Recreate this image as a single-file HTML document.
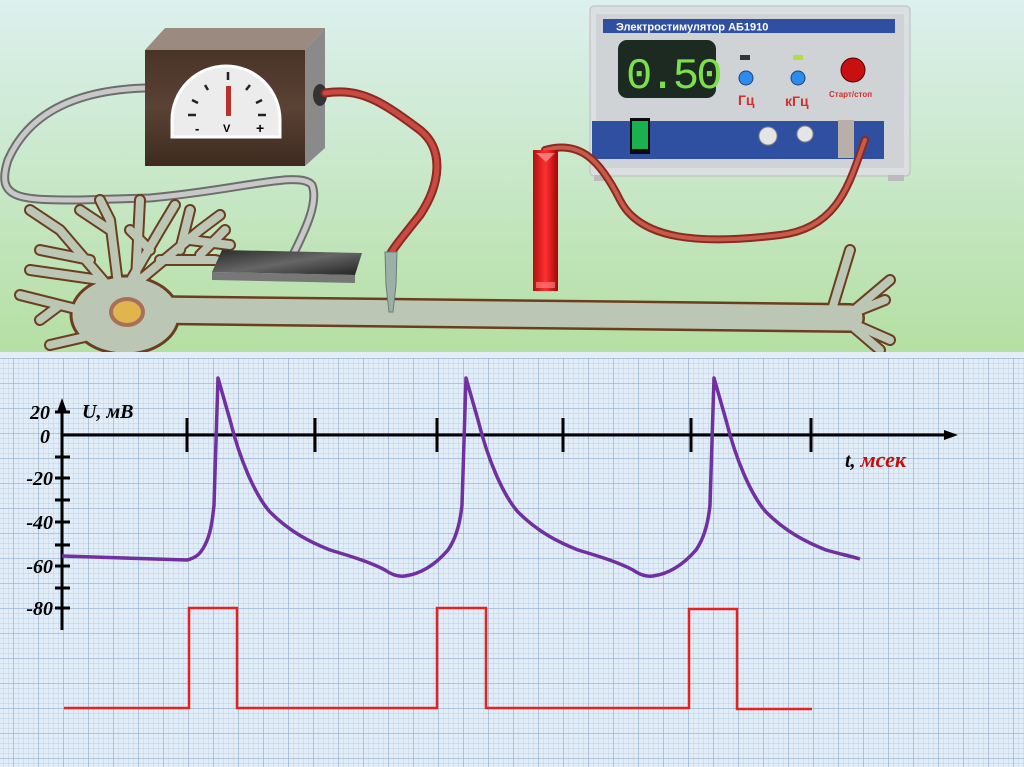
<!DOCTYPE html>
<html><head><meta charset="utf-8"><style>
html,body{margin:0;padding:0;width:1024px;height:767px;overflow:hidden;background:#fff}
svg{display:block}
</style></head><body>
<svg width="1024" height="767" viewBox="0 0 1024 767" xmlns="http://www.w3.org/2000/svg">
<defs>
<linearGradient id="bg" x1="0" y1="0" x2="0" y2="1">
<stop offset="0" stop-color="#dcf0ee"/><stop offset="1" stop-color="#b4dfa2"/></linearGradient>
<pattern id="minor" width="5" height="5" patternUnits="userSpaceOnUse" x="13" y="8">
<path d="M0 0H5M0 0V5" stroke="#bcd1e4" stroke-width="0.9" fill="none"/></pattern>
<pattern id="major" width="25" height="25" patternUnits="userSpaceOnUse" x="13" y="8">
<path d="M0 0H25M0 0V25" stroke="#94adc9" stroke-width="1.3" fill="none"/></pattern>
<linearGradient id="wood" x1="0" y1="0" x2="0" y2="1"><stop offset="0" stop-color="#4a3428"/><stop offset="0.5" stop-color="#5a4234"/><stop offset="1" stop-color="#3e2a20"/></linearGradient>
<linearGradient id="pad" x1="0" y1="0" x2="1" y2="1"><stop offset="0" stop-color="#2a2a2a"/><stop offset="0.5" stop-color="#666"/><stop offset="1" stop-color="#222"/></linearGradient>
<linearGradient id="redbar" x1="0" y1="0" x2="1" y2="0"><stop offset="0" stop-color="#b01010"/><stop offset="0.5" stop-color="#ff3030"/><stop offset="1" stop-color="#a00808"/></linearGradient>
</defs>
<rect width="1024" height="356" fill="url(#bg)"/>
<rect y="356" width="1024" height="411" fill="#e2edf7"/>
<rect y="356" width="1024" height="411" fill="url(#minor)"/>
<rect y="356" width="1024" height="411" fill="url(#major)"/>

<!-- gray cable -->
<g fill="none" stroke-linecap="round">
<path d="M145 88 C80 90 30 110 8 160 C-5 200 20 200 80 200 L150 198 C240 190 300 170 312 185 C320 205 300 240 288 265" stroke="#6d6d6d" stroke-width="9"/>
<path d="M145 88 C80 90 30 110 8 160 C-5 200 20 200 80 200 L150 198 C240 190 300 170 312 185 C320 205 300 240 288 265" stroke="#c8c8c8" stroke-width="5"/>
</g>

<!-- neuron -->
<g fill="none" stroke-linecap="round" stroke-linejoin="round">
<g stroke="#6b3e20">
<path d="M150 310 L850 318" stroke-width="30"/>
<path d="M840 318 L885 300 M840 318 L890 340 M830 316 L850 250 M845 318 L890 280 M845 320 L880 350" stroke-width="12"/>
<path d="M120 300 L60 230 L30 210 M90 260 L40 250 M120 300 L110 220 L100 200 M110 230 L80 210 M125 290 L160 230 L175 205 M150 250 L130 230 M140 280 L200 230 L220 215 M190 240 L230 245 M180 250 L190 210 M120 320 L40 300 L20 295 M60 305 L40 320 M115 330 L50 345 M135 300 L140 200 M100 280 L30 270 M160 260 L215 260 L235 265 M200 255 L225 230" stroke-width="12"/>
<ellipse cx="125" cy="315" rx="55" ry="40" fill="#6b3e20"/>
</g>
<g stroke="#bcc6b4">
<path d="M150 310 L850 318" stroke-width="25"/>
<path d="M840 318 L885 300 M840 318 L890 340 M830 316 L850 250 M845 318 L890 280 M845 320 L880 350" stroke-width="8"/>
<path d="M120 300 L60 230 L30 210 M90 260 L40 250 M120 300 L110 220 L100 200 M110 230 L80 210 M125 290 L160 230 L175 205 M150 250 L130 230 M140 280 L200 230 L220 215 M190 240 L230 245 M180 250 L190 210 M120 320 L40 300 L20 295 M60 305 L40 320 M115 330 L50 345 M135 300 L140 200 M100 280 L30 270 M160 260 L215 260 L235 265 M200 255 L225 230" stroke-width="8"/>
<ellipse cx="125" cy="315" rx="52" ry="37" fill="#bcc6b4"/>
</g>
</g>
<rect y="352" width="1024" height="6" fill="#e2edf7"/>
<ellipse cx="127" cy="312" rx="16" ry="13" fill="#e1b44e" stroke="#a6705a" stroke-width="4"/>

<!-- plate -->
<polygon points="222,250 362,253 355,275 212,272" fill="url(#pad)"/>
<polygon points="212,272 355,275 355,283 212,280" fill="#777"/>

<!-- voltmeter box -->
<polygon points="145,50 165,28 325,28 305,50" fill="#9a8a80"/>
<polygon points="305,50 325,28 325,148 305,166" fill="#8a8a8a"/>
<rect x="145" y="50" width="160" height="116" fill="url(#wood)"/>
<path d="M172 137 L172 120 A54 54 0 0 1 280 120 L280 137 Z" fill="#ececec" stroke="#fff" stroke-width="3"/>
<rect x="226" y="86" width="5" height="30" fill="#b8312a"/>
<text x="195" y="133" font-family="Liberation Sans" font-weight="bold" font-size="13">-</text>
<text x="223" y="132" font-family="Liberation Sans" font-weight="bold" font-size="11">V</text>
<text x="256" y="133" font-family="Liberation Sans" font-weight="bold" font-size="14">+</text>
<path d="M188 115 L196 115 M192 100 L198 103 M205 85 L208 90 M228 72 L228 80 M250 85 L246 90 M262 100 L256 103 M266 115 L258 115" stroke="#222" stroke-width="2.5"/>
<ellipse cx="320" cy="95" rx="7" ry="11" fill="#333"/>

<!-- red cable left -->
<path d="M325 93 C360 88 380 100 420 130 C445 150 440 185 420 215 C400 240 392 250 390 255" fill="none" stroke="#8a2a22" stroke-width="9" stroke-linecap="round"/>
<path d="M325 93 C360 88 380 100 420 130 C445 150 440 185 420 215 C400 240 392 250 390 255" fill="none" stroke="#c84a40" stroke-width="5" stroke-linecap="round"/>
<polygon points="385,252 397,252 396,285 393,312 389,312 386,285" fill="#9cb0a8" stroke="#6a7c76"/>

<!-- stimulator -->
<rect x="590" y="6" width="320" height="170" rx="4" fill="#dcdfe2" stroke="#bbb"/>
<rect x="596" y="14" width="308" height="154" fill="#cfd3d6"/>
<rect x="603" y="19" width="292" height="14" fill="#2f4fa0"/>
<text x="616" y="30.5" font-family="Liberation Sans" font-weight="bold" font-size="11" fill="#fff">Электростимулятор АБ1910</text>
<rect x="618" y="40" width="98" height="58" rx="9" fill="#1d2a22"/>
<text x="626" y="88" font-family="Liberation Mono" font-size="44" fill="#7be04a" letter-spacing="-3">0.50</text>
<rect x="740" y="55" width="10" height="5" fill="#333"/>
<rect x="793" y="55" width="10" height="5" fill="#b0e040"/>
<circle cx="746" cy="78" r="7" fill="#2a8cf0" stroke="#246"/>
<circle cx="798" cy="78" r="7" fill="#2a8cf0" stroke="#246"/>
<text x="738" y="105" font-family="Liberation Sans" font-weight="bold" font-size="14" fill="#d03030">Гц</text>
<text x="785" y="106" font-family="Liberation Sans" font-weight="bold" font-size="14" fill="#d03030">кГц</text>
<circle cx="853" cy="70" r="12" fill="#c81010" stroke="#500"/>
<text x="829" y="97" font-family="Liberation Sans" font-weight="bold" font-size="8" fill="#d03030">Старт/стоп</text>
<rect x="592" y="121" width="292" height="38" fill="#2f4fa0"/>
<rect x="630" y="118" width="20" height="36" fill="#0a0a0a"/>
<rect x="632" y="121" width="16" height="28" fill="#1ab050"/>
<circle cx="768" cy="136" r="9" fill="#e5e5e5" stroke="#888"/>
<circle cx="805" cy="134" r="8" fill="#e5e5e5" stroke="#888"/>
<rect x="838" y="120" width="16" height="38" fill="#b8b0a8"/>
<rect x="594" y="175" width="16" height="6" fill="#bbb"/><rect x="888" y="175" width="16" height="6" fill="#bbb"/>

<!-- red cable right -->
<path d="M545 150 C580 140 600 160 620 200 C640 240 700 245 780 235 C840 228 850 180 865 140" fill="none" stroke="#8a2a22" stroke-width="8" stroke-linecap="round"/>
<path d="M545 150 C580 140 600 160 620 200 C640 240 700 245 780 235 C840 228 850 180 865 140" fill="none" stroke="#c85a4a" stroke-width="4" stroke-linecap="round"/>
<rect x="533" y="150" width="25" height="141" fill="url(#redbar)"/>
<polygon points="536,153 555,153 546,162" fill="#ff9a9a" opacity="0.7"/>
<rect x="536" y="282" width="19" height="6" fill="#ff8a8a" opacity="0.6"/>

<!-- axes -->
<g stroke="#000" stroke-width="3" fill="none">
<path d="M62 630 V405"/>
<path d="M62 435 H950"/>
<path d="M187 418V452M315 418V452M437 418V452M563 418V452M691 418V452M811 418V452"/>
<path d="M55 412H70M55 457H70M55 478H70M55 500H70M55 522H70M55 545H70M55 566H70M55 588H70M55 608H70"/>
</g>
<polygon points="62,398 57,412 67,412" fill="#000"/>
<polygon points="958,435 944,430 944,440" fill="#000"/>
<g font-family="Liberation Serif" font-weight="bold" font-style="italic" font-size="20" fill="#000" text-anchor="end">
<text x="50" y="419">20</text><text x="50" y="443">0</text><text x="53" y="485">-20</text>
<text x="53" y="529">-40</text><text x="53" y="573">-60</text><text x="53" y="615">-80</text>
</g>
<text x="82" y="418" font-family="Liberation Serif" font-weight="bold" font-style="italic" font-size="20">U, мВ</text>
<text x="845" y="467" font-family="Liberation Serif" font-weight="bold" font-style="italic" font-size="20">t, <tspan fill="#c01010" font-size="22">мсек</tspan></text>

<!-- action potentials -->
<path d="M62 556 L187 560 C195 558 200 555 205 545 C210 535 212 525 214 505 L218 378 L230 420 C240 460 255 495 270 512 C290 532 310 542 330 550 C350 556 370 562 385 570 C392 575 398 577 405 576 C420 574 435 565 448 550 C455 540 460 525 462 505 L466 378 L478 420 C488 460 503 495 518 512 C538 532 558 542 578 550 C598 556 618 562 633 570 C640 575 646 577 653 576 C668 574 683 565 696 550 C703 540 708 525 710 505 L714 378 L726 420 C736 460 751 495 766 512 C786 532 806 542 826 550 C840 554 850 556 860 559" fill="none" stroke="#7030a0" stroke-width="3.5" stroke-linejoin="round"/>

<!-- stimulus pulses -->
<path d="M64 708 H189 V608 H237 V708 H437 V608 H486 V708 H689 V609 H737 V709 H812" fill="none" stroke="#e82020" stroke-width="2.5"/>
</svg>
</body></html>
